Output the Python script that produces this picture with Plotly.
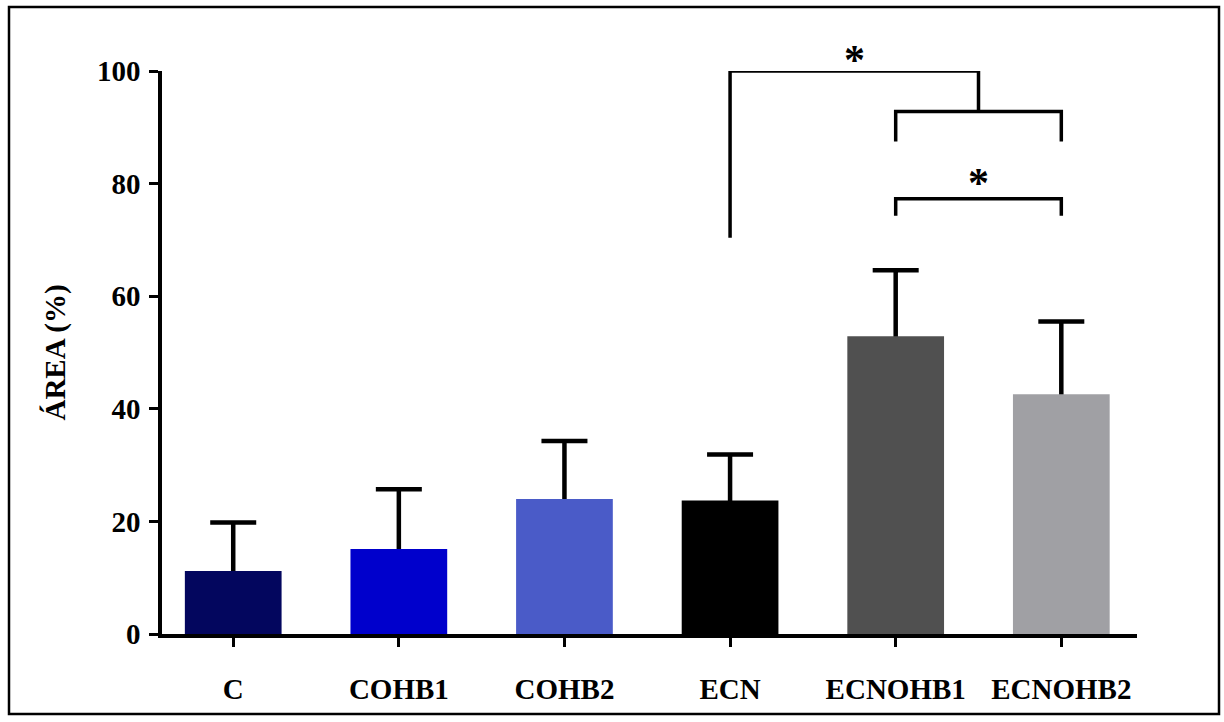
import plotly.graph_objects as go

# ---- data ----
categories = ["C", "COHB1", "COHB2", "ECN", "ECNOHB1", "ECNOHB2"]
means = [11.2, 15.1, 24.0, 23.7, 52.9, 42.6]
sds = [8.6, 10.6, 10.3, 8.2, 11.7, 12.9]
bar_colors = ["#03065E", "#0000CC", "#4A5BC8", "#000000", "#505050", "#A0A0A4"]
y_ticks = [0, 20, 40, 60, 80, 100]
y_title = "ÁREA (%)"

# significance brackets: (x_left, x_right, y_top, y_left_bottom, y_right_bottom, label, label_x, label_y)
brackets = [
    (3, 4.5, 100.0, 70.4, 92.8, "*", 3.75, 103.4),
    (4, 5, 92.8, 87.5, 87.5, "", None, None),
    (4, 5, 77.3, 74.3, 74.3, "*", 4.5, 81.6),
]

FONT = "Liberation Serif, Times New Roman, serif"
Y_MIN, Y_MAX = 0, 100

x_idx = list(range(len(categories)))

fig = go.Figure()
# error bars (upper only); the lower end is hidden under the coloured bars drawn next
fig.add_trace(go.Bar(
    x=x_idx, y=means,
    marker=dict(color="rgba(0,0,0,0)", line=dict(width=0)),
    width=0.584,
    error_y=dict(type="data", symmetric=False, array=sds, arrayminus=[m / 2 for m in means],
                 color="#000000", thickness=4.5, width=23),
    showlegend=False, hoverinfo="skip",
))
fig.add_trace(go.Bar(
    x=x_idx, y=means,
    marker=dict(color=bar_colors, line=dict(width=0)),
    width=0.584,
    showlegend=False,
))

annotations = []
for (xl, xr, yt, ylb, yrb, lab, lx, ly) in brackets:
    fig.add_trace(go.Scatter(
        x=[xl, xl, xr, xr], y=[ylb, yt, yt, yrb],
        mode="lines", line=dict(color="#000000", width=3.5),
        cliponaxis=False, showlegend=False, hoverinfo="skip",
    ))
    if lab:
        annotations.append(dict(
            x=lx, y=(ly - Y_MIN) / (Y_MAX - Y_MIN), xref="x", yref="y domain",
            text="<b>" + lab + "</b>",
            showarrow=False, font=dict(family=FONT, size=42, color="#000000"),
            xanchor="center", yanchor="middle", yshift=-8,
        ))

W, H = 1224, 722
ml, mr, mt, mb = 162, 87, 71, 88
pw, ph = W - ml - mr, H - mt - mb

def px_to_paper_x(px):
    return (px - ml) / pw

def px_to_paper_y(py):
    return (H - mb - py) / ph

fig.update_layout(
    width=W, height=H, autosize=False,
    margin=dict(l=ml, r=mr, t=mt, b=mb, pad=0),
    plot_bgcolor="white", paper_bgcolor="white",
    barmode="overlay",
    annotations=annotations,
    shapes=[dict(
        type="rect", xref="paper", yref="paper",
        x0=px_to_paper_x(9), x1=px_to_paper_x(1219),
        y0=px_to_paper_y(714), y1=px_to_paper_y(7),
        line=dict(color="#000000", width=2.5), fillcolor="rgba(0,0,0,0)", layer="above",
    )],
)
fig.update_xaxes(
    range=[-0.43, 5.457], tickmode="array", tickvals=x_idx, ticktext=categories,
    showline=True, linecolor="#000000", linewidth=3.5,
    ticks="outside", ticklen=9, tickwidth=3, tickcolor="#000000",
    showgrid=False, zeroline=False,
    tickfont=dict(family=FONT, size=29, color="#000000", weight="bold"),
    ticklabelstandoff=17,
)
fig.update_yaxes(
    range=[Y_MIN, Y_MAX], tickmode="array", tickvals=y_ticks,
    showline=True, linecolor="#000000", linewidth=3.5,
    ticks="outside", ticklen=9, tickwidth=3, tickcolor="#000000",
    showgrid=False, zeroline=False,
    tickfont=dict(family=FONT, size=29, color="#000000", weight="bold"),
    ticklabelstandoff=3,
    title=dict(text=y_title, font=dict(family=FONT, size=29, color="#000000", weight="bold"), standoff=24),
)

fig.write_html(
    "out.html",
    config={"displayModeBar": False},
    post_script="document.body.style.margin='0';document.body.style.overflow='hidden';",
)
